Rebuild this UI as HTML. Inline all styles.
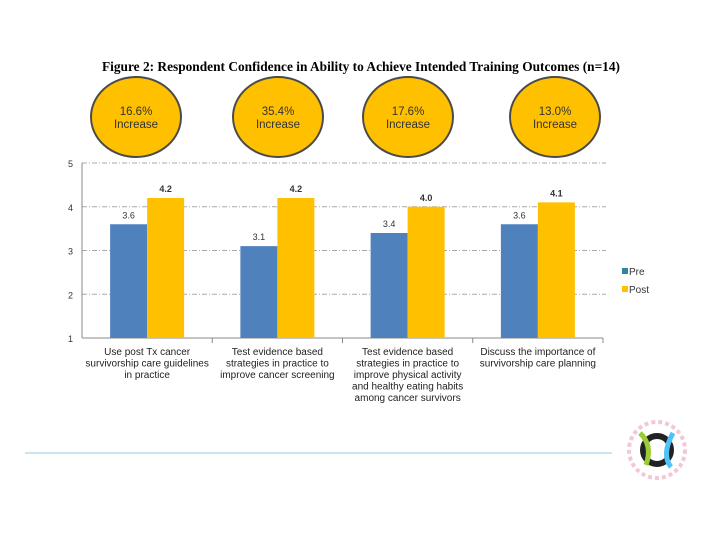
<!DOCTYPE html>
<html><head><meta charset="utf-8"><style>
body{margin:0;background:#fff;width:720px;height:540px;overflow:hidden;font-family:"Liberation Sans",sans-serif}
</style></head><body>
<svg width="720" height="540">
<text x="361" y="71" text-anchor="middle" font-family="Liberation Serif" font-weight="bold" font-size="13.5" textLength="518" lengthAdjust="spacingAndGlyphs">Figure 2: Respondent Confidence in Ability to Achieve Intended Training Outcomes (n=14)</text>
<g id="circles"></g>
<g id="grid"></g>
<g id="bars"></g>
<g id="labels"></g>
<g>
<rect x="622" y="268" width="6" height="6" fill="#31859c"/>
<text x="629" y="275" font-size="10" fill="#333">Pre</text>
<rect x="622" y="286" width="6" height="6" fill="#ffc000"/>
<text x="629" y="293" font-size="10" fill="#333">Post</text>
</g>
<line x1="25" y1="453" x2="612" y2="453" stroke="#b7dde8" stroke-width="1.5"/>
<g>
<circle cx="657" cy="450" r="28" fill="none" stroke="#f3c7d8" stroke-width="4" stroke-dasharray="4 3"/>
<circle cx="657" cy="450" r="14" fill="none" stroke="#222" stroke-width="6"/>
<path d="M640 433 Q653 445 646 465" stroke="#9acd32" stroke-width="5" fill="none"/>
<path d="M673 433 Q661 455 671 467" stroke="#4fc3f7" stroke-width="5" fill="none"/>
</g>
</svg>
<script>
const categories=[["Use post Tx cancer","survivorship care guidelines","in practice"],["Test evidence based","strategies in practice to","improve cancer screening"],["Test evidence based","strategies in practice to","improve physical activity","and healthy eating habits","among cancer survivors"],["Discuss the importance of","survivorship care planning"]];
const preValues=[3.6,3.1,3.4,3.6];
const postValues=[4.2,4.2,4.0,4.1];
const increaseLabels=["16.6%","35.4%","17.6%","13.0%"];
const yTicks=[1,2,3,4,5];
const NS="http://www.w3.org/2000/svg";
const x0=82,x1=603,yTop=163,yBot=338;
const y=v=>yBot-(v-1)/(4)*(yBot-yTop);
const gw=(x1-x0)/categories.length;
const gx=i=>x0+i*gw;
function mk(tag,attrs,parent,text){const e=document.createElementNS(NS,tag);for(const k in attrs)e.setAttribute(k,attrs[k]);if(text!=null)e.textContent=text;document.getElementById(parent).appendChild(e);return e;}
yTicks.forEach(t=>{
 if(t>1){const l=mk('line',{x1:x0,x2:x1+3,y1:y(t),y2:y(t),stroke:'#aaa','stroke-dasharray':'5 2 1 2'},'grid');
 
 }
 const tx=mk('text',{x:x0-14,y:y(t)+4,'font-size':'9',fill:'#333'},'grid',t);
 
 
});
let ax=mk('line',{x1:x0,x2:x0,y1:yTop,y2:yBot,stroke:'#888'},'grid');


ax=mk('line',{x1:x0,x2:x1,y1:yBot,y2:yBot,stroke:'#888'},'grid');


categories.forEach((c,i)=>{
 const tk=mk('line',{x1:gx(i+1),x2:gx(i+1),y1:yBot,y2:yBot+5,stroke:'#888'},'grid');
 
 
 const cx=gx(i)+gw/2;
 const bw=37;
 const pb=mk('rect',{x:cx-bw,y:y(preValues[i]),width:bw,height:yBot-y(preValues[i]),fill:'#4f81bd'},'bars');
 
 
 const qb=mk('rect',{x:cx,y:y(postValues[i]),width:bw,height:yBot-y(postValues[i]),fill:'#ffc000'},'bars');
 
 
 const pl=mk('text',{x:cx-bw/2,y:y(preValues[i])-6,'font-size':'9','text-anchor':'middle',fill:'#333'},'bars',preValues[i].toFixed(1));
 
 
 const ql=mk('text',{x:cx+bw/2,y:y(postValues[i])-6,'font-size':'9','text-anchor':'middle',fill:'#333','font-weight':'bold'},'bars',postValues[i].toFixed(1));
 
 
 c.forEach((ln,j)=>{const t=mk('text',{x:cx,y:355+j*11.5,'font-size':'10','text-anchor':'middle',fill:'#222'},'labels',ln);
 
 });
});
const circX=[136,278,408,555];
increaseLabels.forEach((s,i)=>{
 const e=mk('ellipse',{cx:circX[i],cy:117,rx:45,ry:40,fill:'#ffc000',stroke:'#4a4a4a','stroke-width':'2'},'circles');
 
 
 const t1=mk('text',{x:circX[i],y:115,'font-size':'11.5','text-anchor':'middle',fill:'#333'},'circles',s);
 
 
 const t2=mk('text',{x:circX[i],y:128,'font-size':'11.5','text-anchor':'middle',fill:'#333'},'circles','Increase');
 
 
});
</script>
</body></html>
